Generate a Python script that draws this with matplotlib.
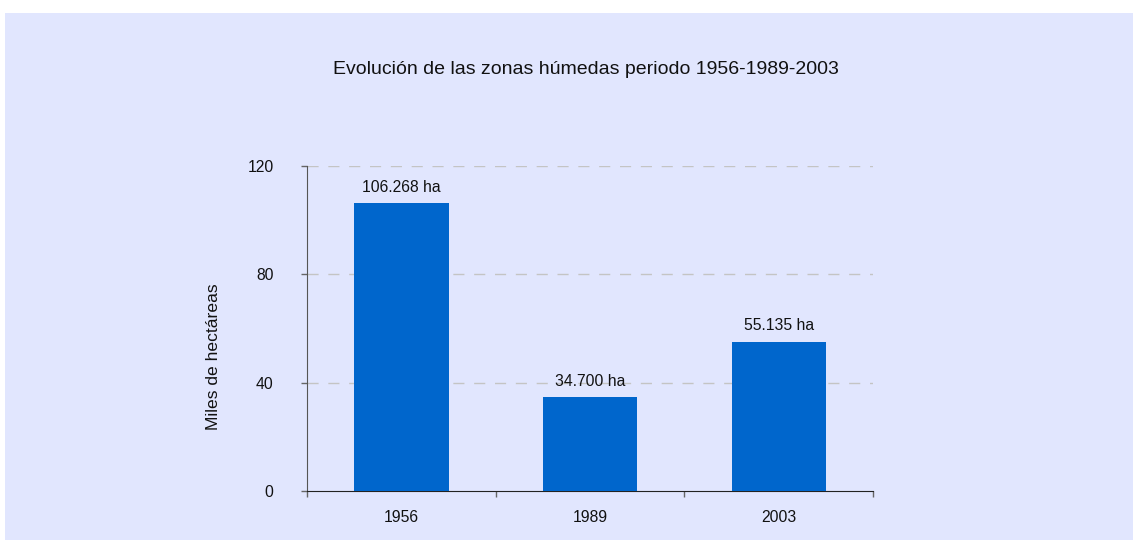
import numpy as np
import matplotlib
matplotlib.use("Agg")
import matplotlib.pyplot as plt

years = ["1956", "1989", "2003"]
hectareas = [106.268, 34.700, 55.135]
etiquetas = ["106.268 ha", "34.700 ha", "55.135 ha"]
yticks = [0, 40, 80, 120]

plt.rcParams['font.family'] = ['Liberation Sans', 'DejaVu Sans']

fondo = '#E1E6FE'
fs = 11.3
fig = plt.figure(figsize=(11.33, 5.4), dpi=100)
fig.patch.set_facecolor('white')
# panel de fondo (deja franja blanca arriba e izquierda)
fig.patches.append(plt.Rectangle((5 / 1133, 0), 1, 1 - 13 / 540, transform=fig.transFigure,
                                 facecolor=fondo, edgecolor='none', zorder=-5))

ax = fig.add_axes([307 / 1133, 1 - 491 / 540, 566 / 1133, 325 / 540])
ax.set_zorder(2)
ax.set_facecolor('none')

x = np.arange(len(years))
bars = ax.bar(x, hectareas, width=0.5, color='#0066CC', zorder=3)
for b, t in zip(bars, etiquetas):
    ax.annotate(t, (b.get_x() + b.get_width() / 2, b.get_height()), xytext=(0, 6),
                textcoords='offset points', ha='center', va='bottom', fontsize=fs, color='#111111')

ax.set_xlim(-0.5, 2.5)
ax.set_ylim(0, 120)
ax.set_yticks(yticks)
ax.set_xticks(x)
ax.set_xticklabels(years)
ax.set_xticks([-0.5, 0.5, 1.5, 2.5], minor=True)
ax.tick_params(axis='x', which='major', length=0, pad=14, labelsize=fs, labelcolor='#111111')
ax.tick_params(axis='x', which='minor', length=4, width=1, color='#666666', direction='out')
ax.tick_params(axis='y', length=4, width=1, color='#666666', pad=20, labelsize=fs, labelcolor='#111111')

for v in yticks[1:]:
    ax.axhline(v, color='#C4C4C4', lw=1, ls=(0, (8, 7)), zorder=1)

for s in ['top', 'right']:
    ax.spines[s].set_visible(False)
ax.spines['left'].set_color('#555555')
ax.spines['bottom'].set_color('#222222')

ax.set_ylabel("Miles de hectáreas", fontsize=12.6, color='#111111')
ax.yaxis.set_label_coords((221 - 307) / 566, (491 - 357) / 325)
fig.text(586 / 1133, 1 - 70 / 540, "Evolución de las zonas húmedas periodo 1956-1989-2003",
         ha='center', va='center', fontsize=14, color='#111111')

fig.savefig("out.png", dpi=100, facecolor=fig.get_facecolor())
